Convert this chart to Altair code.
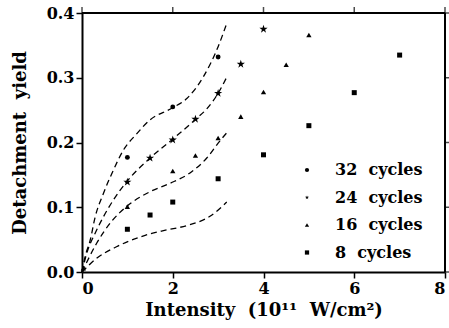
import altair as alt
import pandas as pd

series = ["32 cycles", "24 cycles", "16 cycles", "8 cycles"]

# measured points
x32 = [1, 2, 3]
y32 = [0.177, 0.255, 0.332]
x24 = [1, 1.5, 2, 2.5, 3, 3.5, 4]
y24 = [0.139, 0.176, 0.204, 0.236, 0.276, 0.321, 0.375]
x16 = [0.03, 1, 2, 2.5, 3, 3.5, 4, 4.5, 5]
y16 = [0.006, 0.101, 0.156, 0.180, 0.207, 0.240, 0.278, 0.320, 0.366]
x8 = [1, 1.5, 2, 3, 4, 5, 6, 7]
y8 = [0.066, 0.088, 0.108, 0.144, 0.181, 0.226, 0.277, 0.335]

# dashed fit curves
f32_x = [0, 0.07, 0.18, 0.29, 0.47, 0.69, 0.91, 1.2, 1.5, 1.98, 2.31, 2.67, 3.0, 3.19]
f32_y = [0, 0.024, 0.049, 0.085, 0.121, 0.157, 0.188, 0.213, 0.235, 0.253, 0.268, 0.301, 0.348, 0.384]
f24_x = [0, 0.1, 0.29, 0.47, 0.69, 0.98, 1.5, 1.98, 2.49, 2.75, 3.0, 3.19]
f24_y = [0, 0.028, 0.060, 0.085, 0.111, 0.139, 0.176, 0.204, 0.235, 0.252, 0.276, 0.301]
f16_x = [0, 0.32, 0.65, 0.98, 1.5, 1.94, 2.38, 2.75, 3.0, 3.19]
f16_y = [0, 0.044, 0.078, 0.101, 0.124, 0.137, 0.153, 0.176, 0.199, 0.215]
f8_x = [0, 0.32, 0.76, 1.28, 1.5, 1.87, 2.38, 2.82, 3.19]
f8_y = [0, 0.021, 0.039, 0.054, 0.059, 0.065, 0.073, 0.086, 0.108]

x_ticks = [0, 2, 4, 6, 8]
y_ticks = [0, 0.1, 0.2, 0.3, 0.4]

legend_labels = {"32 cycles": "32\u00a0 cycles", "24 cycles": "24\u00a0 cycles",
                 "16 cycles": "16\u00a0 cycles", "8 cycles": "\u2007 8\u00a0 cycles"}

marker_size = {"32 cycles": 24, "24 cycles": 75, "16 cycles": 28, "8 cycles": 25}

pts = []
for name, xs_, ys_ in zip(series, [x32, x24, x16, x8], [y32, y24, y16, y8]):
    for a, b in zip(xs_, ys_):
        pts.append({"I": a, "Y": b, "s": legend_labels[name], "sz": marker_size[name]})
pts = pd.DataFrame(pts)

fits = []
for name, xs_, ys_ in zip(series, [f32_x, f24_x, f16_x, f8_x], [f32_y, f24_y, f16_y, f8_y]):
    for i, (a, b) in enumerate(zip(xs_, ys_)):
        fits.append({"I": a, "Y": b, "s": name, "o": i})
fits = pd.DataFrame(fits)

star = ("M0,-1L0.2245,-0.309L0.951,-0.309L0.363,0.118L0.588,0.809L0,0.382"
        "L-0.588,0.809L-0.363,0.118L-0.951,-0.309L-0.2245,-0.309Z")

xs = alt.Scale(domain=[0, 8], nice=False, zero=False)
ys = alt.Scale(domain=[0, 0.4], nice=False, zero=False)

lines = alt.Chart(fits).mark_line(
    color="black", strokeDash=[6, 4], strokeWidth=1.3, interpolate="monotone"
).encode(
    x=alt.X("I:Q", scale=xs,
            axis=alt.Axis(orient="bottom", values=x_ticks, format="d",
                          title="Intensity\u00a0 (10¹¹\u00a0 W/cm²)", titlePadding=5,
                          titleFontSize=18)),
    y=alt.Y("Y:Q", scale=ys,
            axis=alt.Axis(orient="left", values=y_ticks, format=".1f",
                          title="Detachment\u00a0 yield", titlePadding=17,
                          titleFontSize=18)),
    detail="s:N",
    order="o:Q",
)

points = alt.Chart(pts).mark_point(filled=True, color="black", opacity=1).encode(
    x=alt.X("I:Q", scale=xs),
    y=alt.Y("Y:Q", scale=ys),
    shape=alt.Shape("s:N",
                    scale=alt.Scale(domain=[legend_labels[s] for s in series],
                                    range=["circle", star, "triangle-up", "square"]),
                    legend=alt.Legend(title=None, orient="none", legendX=217, legendY=149,
                                      symbolSize=18,
                                      labelFont="DejaVu Serif", labelFontWeight="bold",
                                      labelFontSize=16, labelColor="black",
                                      symbolFillColor="black", symbolStrokeColor="black",
                                      symbolStrokeWidth=0, labelOffset=20, rowPadding=11.5,
                                      padding=0, labelLimit=200)),
    size=alt.Size("sz:Q", scale=None),
)

# frame: top and right edges with outward ticks, placed through the scales
top_edge = alt.Chart(pd.DataFrame({"Y": [y_ticks[-1]]})).mark_rule(
    color="black", strokeWidth=2).encode(y=alt.Y("Y:Q", scale=ys))
right_edge = alt.Chart(pd.DataFrame({"I": [x_ticks[-1]]})).mark_rule(
    color="black", strokeWidth=2).encode(x=alt.X("I:Q", scale=xs))
top_ticks = alt.Chart(pd.DataFrame({"I": x_ticks, "Y": [y_ticks[-1]] * len(x_ticks)})).mark_tick(
    color="black", orient="vertical", size=6, thickness=1.5, yOffset=-3).encode(
    x=alt.X("I:Q", scale=xs), y=alt.Y("Y:Q", scale=ys))
right_ticks = alt.Chart(pd.DataFrame({"Y": y_ticks, "I": [x_ticks[-1]] * len(y_ticks)})).mark_tick(
    color="black", orient="horizontal", size=6, thickness=1.5, xOffset=3).encode(
    x=alt.X("I:Q", scale=xs), y=alt.Y("Y:Q", scale=ys))

chart = alt.layer(lines, points, top_edge, right_edge, top_ticks, right_ticks).properties(
    width=363, height=259,
    background="white",
    autosize=alt.AutoSizeParams(type="none"),
    padding={"left": 82, "top": 13, "right": 4, "bottom": 56},
).configure_view(stroke=None).configure_axis(
    grid=False,
    labelFont="DejaVu Serif", labelFontWeight="bold", labelFontSize=16, labelColor="black",
    titleFont="DejaVu Serif", titleFontWeight="bold", titleFontSize=16, titleColor="black",
    domainColor="black", domainWidth=2, tickColor="black", tickWidth=1.5, tickSize=6,
    labelPadding=2,
)

chart.save("out.html", embed_options={"renderer": "svg", "actions": False})
